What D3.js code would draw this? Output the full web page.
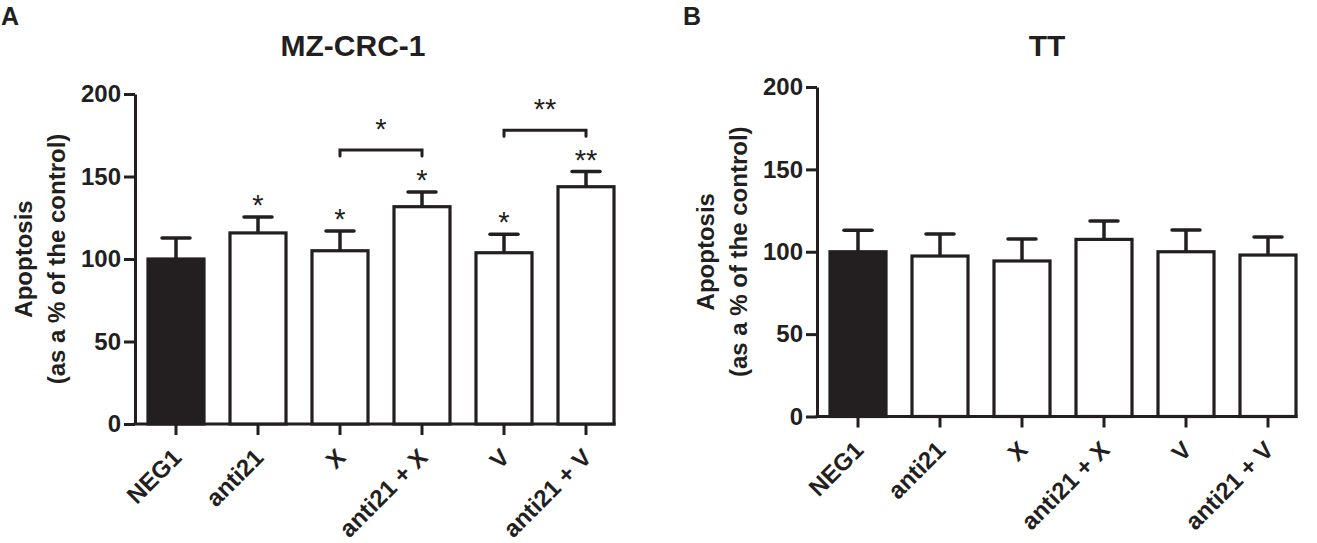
<!DOCTYPE html>
<html>
<head>
<meta charset="utf-8">
<script src="https://cdn.jsdelivr.net/npm/d3@7"></script>
<style>
  body { margin: 0; background: #fff; }
  svg { display: block; font-family: "Liberation Sans", Arial, sans-serif; }
  .tick text { font-weight: bold; }
</style>
</head>
<body>
<svg id="chart" width="1317" height="543"></svg>
<script>
const categories = ["NEG1", "anti21", "X", "anti21 + X", "V", "anti21 + V"];
const yTicks = [0, 50, 100, 150, 200];

// MZ-CRC-1
const meanA = [100, 115.8, 105, 131.7, 103.8, 143.8];
const errA = [12.7, 9.7, 12, 8.9, 11.2, 9.2];
const starsA = ["", "*", "*", "*", "*", "**"];
const bracketsA = [
  { from: "X", to: "anti21 + X", y: 166, label: "*" },
  { from: "V", to: "anti21 + V", y: 178, label: "**" }
];

// TT
const meanB = [100, 97.4, 94.4, 107.5, 100, 98];
const errB = [13, 13.4, 13.3, 11.2, 13.2, 11];

const ink = "#231f20";
const svg = d3.select("#chart");

function drawPanel(opts) {
  const g = svg.append("g");
  const y = d3.scaleLinear().domain([0, 200]).range([opts.bottom, opts.top]);
  const x = d3.scaleBand()
    .domain(categories)
    .range([opts.left, opts.left + 492])
    .paddingInner(0.317)
    .paddingOuter(0.1585);
  const bw = x.bandwidth();
  const rows = categories.map((c, i) => ({
    cat: c, mean: opts.mean[i], err: opts.err[i], star: opts.stars ? opts.stars[i] : ""
  }));

  // panel letter + title
  g.append("text").attr("x", opts.letterX).attr("y", 25)
    .attr("font-size", 25).attr("font-weight", "bold").attr("fill", ink)
    .text(opts.letter);
  g.append("text").attr("x", opts.titleX).attr("y", 56)
    .attr("text-anchor", "middle").attr("font-size", 30).attr("font-weight", "bold")
    .attr("fill", ink).text(opts.title);

  // y axis
  const yAxis = g.append("g")
    .attr("transform", `translate(${opts.left},0)`)
    .call(d3.axisLeft(y).tickValues(yTicks).tickSize(11).tickSizeOuter(0).tickPadding(3));
  yAxis.selectAll("path, line").attr("stroke", ink).attr("stroke-width", 3);
  yAxis.selectAll("text").attr("font-size", 24).attr("fill", ink);

  // x axis
  const xAxis = g.append("g")
    .attr("transform", `translate(0,${opts.bottom})`)
    .call(d3.axisBottom(x).tickSize(11).tickSizeOuter(0));
  xAxis.select(".domain").remove();
  xAxis.selectAll("line").attr("stroke", ink).attr("stroke-width", 3);
  xAxis.selectAll("text")
    .attr("font-size", 24).attr("fill", ink)
    .attr("text-anchor", "end").attr("dy", null).attr("y", null)
    .attr("transform", "translate(7,35) rotate(-45)");
  g.append("line")
    .attr("x1", opts.left - 1.5).attr("x2", x(categories[categories.length - 1]) + bw + 1.5)
    .attr("y1", opts.bottom).attr("y2", opts.bottom)
    .attr("stroke", ink).attr("stroke-width", 3);

  // error bars (upper only)
  const eb = g.append("g").attr("stroke", ink).attr("stroke-width", 3.5);
  eb.selectAll("line.v").data(rows).join("line")
    .attr("x1", d => x(d.cat) + bw / 2).attr("x2", d => x(d.cat) + bw / 2)
    .attr("y1", d => y(d.mean)).attr("y2", d => y(d.mean + d.err));
  eb.selectAll("line.cap").data(rows).join("line")
    .attr("stroke-linecap", "round")
    .attr("x1", d => x(d.cat) + bw / 2 - 14).attr("x2", d => x(d.cat) + bw / 2 + 14)
    .attr("y1", d => y(d.mean + d.err)).attr("y2", d => y(d.mean + d.err));

  // bars
  g.selectAll("rect.bar").data(rows).join("rect")
    .attr("x", d => x(d.cat)).attr("width", bw)
    .attr("y", d => y(d.mean)).attr("height", d => opts.bottom - y(d.mean))
    .attr("fill", (d, i) => i === 0 ? ink : "#fff")
    .attr("stroke", ink).attr("stroke-width", 3.2);

  // significance stars over bars
  g.selectAll("text.star").data(rows.filter(d => d.star)).join("text")
    .attr("x", d => x(d.cat) + bw / 2).attr("y", d => y(d.mean + d.err) - 2)
    .attr("text-anchor", "middle").attr("font-size", 29).attr("fill", ink)
    .text(d => d.star);

  // comparison brackets
  (opts.brackets || []).forEach(b => {
    const x1 = x(b.from) + bw / 2, x2 = x(b.to) + bw / 2, yy = y(b.y);
    g.append("path")
      .attr("d", `M${x1},${yy + 6}V${yy}H${x2}V${yy + 6}`)
      .attr("fill", "none").attr("stroke", ink).attr("stroke-width", 3)
      .attr("stroke-linecap", "round");
    g.append("text").attr("x", (x1 + x2) / 2).attr("y", yy - 11)
      .attr("text-anchor", "middle").attr("font-size", 29).attr("fill", ink)
      .text(b.label);
  });

  // y axis title
  const yl = g.append("text")
    .attr("transform", `translate(${opts.left - 103},${(opts.top + opts.bottom) / 2}) rotate(-90)`)
    .attr("text-anchor", "middle").attr("font-size", 24).attr("font-weight", "bold")
    .attr("fill", ink);
  yl.append("tspan").attr("x", 0).attr("dy", 0).text("Apoptosis");
  yl.append("tspan").attr("x", 0).attr("dy", 33).text("(as a % of the control)");
}

drawPanel({ letter: "A", letterX: 1, title: "MZ-CRC-1", titleX: 353, left: 135, top: 94, bottom: 424,
  mean: meanA, err: errA, stars: starsA, brackets: bracketsA });
drawPanel({ letter: "B", letterX: 683, title: "TT", titleX: 1047, left: 817, top: 87, bottom: 416.5,
  mean: meanB, err: errB });
</script>
</body>
</html>
